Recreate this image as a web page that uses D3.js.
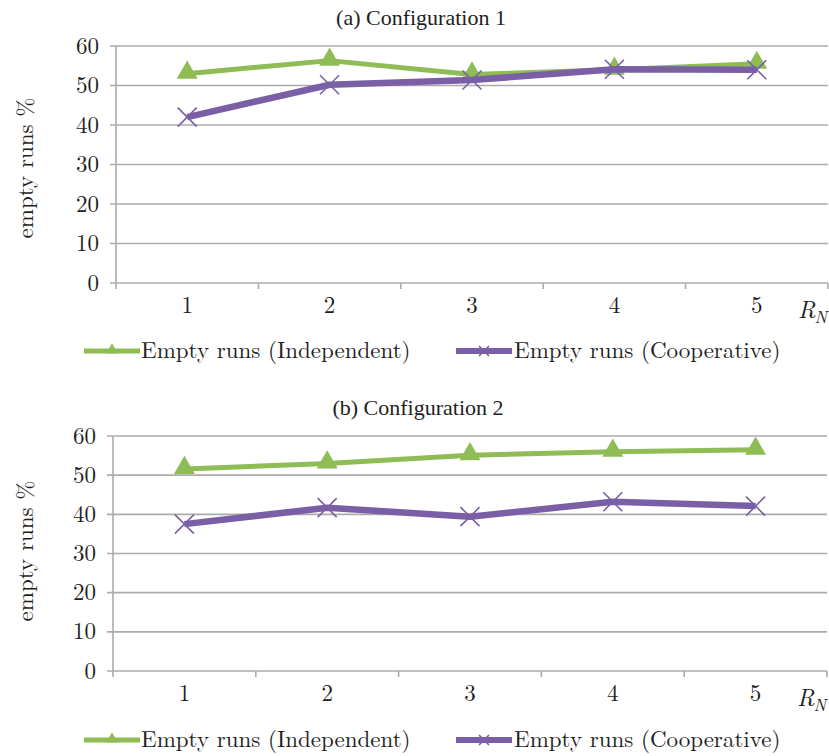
<!DOCTYPE html>
<html>
<head>
<meta charset="utf-8">
<script src="https://cdn.jsdelivr.net/npm/d3@7"></script>
<style>
  html, body { margin: 0; padding: 0; background: #fff; }
  svg { display: block; }
</style>
</head>
<body>
<svg id="chart" width="829" height="756"></svg>
<script>
// R_N values on the horizontal axis
const categories = ["1", "2", "3", "4", "5"];
const yTicks = [0, 10, 20, 30, 40, 50, 60];

// Configuration 1
const config1Independent = [53.0, 56.3, 52.8, 54.0, 55.5];
const config1Cooperative = [42.0, 50.2, 51.4, 54.1, 54.0];

// Configuration 2
const config2Independent = [51.6, 53.0, 55.1, 56.0, 56.5];
const config2Cooperative = [37.5, 41.7, 39.4, 43.2, 42.1];

const seriesNames = ["Empty runs (Independent)", "Empty runs (Cooperative)"];
const panelTitles = ["(a) Configuration 1", "(b) Configuration 2"];

const GREEN = "#8fbc55";
const PURPLE = "#7b5fa6";
const GRID = "#ababab";
const INK = "#1e1e1e";
const LM = "'Latin Modern Roman'";
const TIMES = "'Liberation Serif'";

const svg = d3.select("#chart");

const panels = [
  { title: panelTitles[0], indep: config1Independent, coop: config1Cooperative,
    left: 116, right: 828, top: 46, bottom: 283, titleX: 421, titleY: 25, labelY: 168, legendY: 351 },
  { title: panelTitles[1], indep: config2Independent, coop: config2Cooperative,
    left: 113, right: 827, top: 436, bottom: 671, titleX: 418, titleY: 415, labelY: 551, legendY: 740 }
];

const triangle = d3.symbol().type(d3.symbolTriangle).size(190);

function drawCross(g, x, y, r) {
  g.append("path")
    .attr("d", `M${x - r},${y - r}L${x + r},${y + r}M${x - r},${y + r}L${x + r},${y - r}`)
    .attr("stroke", PURPLE).attr("stroke-width", 1.6).attr("fill", "none");
}

function label(g, x, y, txt, size, family) {
  return g.append("text")
    .attr("x", x).attr("y", y)
    .attr("font-family", family || LM)
    .attr("font-size", size)
    .attr("fill", INK)
    .text(txt);
}

panels.forEach(p => {
  const g = svg.append("g");

  const x = d3.scaleBand().domain(categories).range([p.left, p.right]);
  const y = d3.scaleLinear().domain([0, 60]).range([p.bottom, p.top]);

  // panel title
  label(g, p.titleX, p.titleY, p.title, 22, TIMES).attr("text-anchor", "middle");

  // horizontal gridlines, extending left past the axis as tick marks
  g.append("g").selectAll("line")
    .data(yTicks)
    .join("line")
    .attr("x1", p.left - 6).attr("x2", p.right)
    .attr("y1", d => y(d)).attr("y2", d => y(d))
    .attr("stroke", GRID).attr("stroke-width", 1.6);

  // y tick labels
  g.append("g").selectAll("text")
    .data(yTicks)
    .join("text")
    .attr("x", p.left - 17)
    .attr("y", d => y(d))
    .attr("dy", "0.33em")
    .attr("text-anchor", "end")
    .attr("font-family", LM).attr("font-size", 23).attr("fill", INK)
    .text(d => d);

  // vertical axis line
  g.append("line")
    .attr("x1", p.left).attr("x2", p.left)
    .attr("y1", p.top).attr("y2", p.bottom)
    .attr("stroke", GRID).attr("stroke-width", 1.6);

  // x-axis: category boundary ticks
  const boundaries = categories.map(c => x(c)).concat([x.range()[1]]);
  g.append("g").selectAll("line")
    .data(boundaries)
    .join("line")
    .attr("x1", d => d).attr("x2", d => d)
    .attr("y1", p.bottom).attr("y2", p.bottom + 6)
    .attr("stroke", GRID).attr("stroke-width", 1.6);

  const cx = c => x(c) + x.bandwidth() / 2;

  g.append("g").selectAll("text")
    .data(categories)
    .join("text")
    .attr("x", d => cx(d))
    .attr("y", p.bottom + 30)
    .attr("text-anchor", "middle")
    .attr("font-family", LM).attr("font-size", 23).attr("fill", INK)
    .text(d => d);

  // R_N axis title
  const rn = g.append("text")
    .attr("x", p.right - 30).attr("y", p.bottom + 35)
    .attr("font-family", LM).attr("font-size", 24).attr("fill", INK)
    .attr("font-style", "italic");
  rn.append("tspan").text("R");
  rn.append("tspan").attr("dy", 5).attr("dx", -1).attr("font-size", 17).text("N");

  // y-axis title
  g.append("text")
    .attr("transform", `translate(33,${p.labelY}) rotate(-90)`)
    .attr("text-anchor", "middle")
    .attr("font-family", LM).attr("font-size", 23).attr("fill", INK)
    .text("empty runs %");

  const line = d3.line().x((d, i) => cx(categories[i])).y(d => y(d));

  // Independent series
  g.append("path").datum(p.indep)
    .attr("d", line)
    .attr("fill", "none").attr("stroke", GREEN)
    .attr("stroke-width", 5).attr("stroke-linejoin", "round");
  g.append("g").selectAll("path")
    .data(p.indep)
    .join("path")
    .attr("d", triangle)
    .attr("transform", (d, i) => `translate(${cx(categories[i])},${y(d) - 1})`)
    .attr("fill", GREEN);

  // Cooperative series
  g.append("path").datum(p.coop)
    .attr("d", line)
    .attr("fill", "none").attr("stroke", PURPLE)
    .attr("stroke-width", 6.5).attr("stroke-linejoin", "round");
  p.coop.forEach((d, i) => drawCross(g, cx(categories[i]), y(d), 9.5));

  // legend
  const ly = p.legendY;
  const leg = g.append("g");
  leg.append("line")
    .attr("x1", 84).attr("x2", 140).attr("y1", ly).attr("y2", ly)
    .attr("stroke", GREEN).attr("stroke-width", 5);
  leg.append("path")
    .attr("d", d3.symbol().type(d3.symbolTriangle).size(60))
    .attr("transform", `translate(112,${ly - 1})`)
    .attr("fill", GREEN);
  label(leg, 141, ly + 7, seriesNames[0], 23);

  leg.append("line")
    .attr("x1", 456).attr("x2", 512).attr("y1", ly).attr("y2", ly)
    .attr("stroke", PURPLE).attr("stroke-width", 6);
  drawCross(leg, 484, ly, 5);
  label(leg, 514, ly + 7, seriesNames[1], 23);
});
</script>
</body>
</html>
